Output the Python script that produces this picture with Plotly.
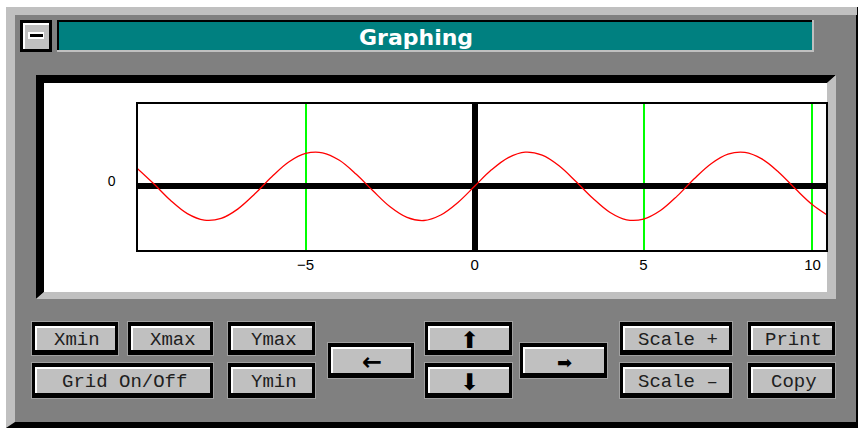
import plotly.graph_objects as go

# ---------------------------------------------------------------------------
# Data
# ---------------------------------------------------------------------------

curve_x = [-10, -9.5, -9, -8.5, -8, -7.5, -7, -6.5, -6, -5.5, -5, -4.5, -4, -3.5,
           -3, -2.5, -2, -1.5, -1, -0.5, 0, 0.5, 1, 1.5, 2, 2.5, 3, 3.5, 4, 4.5,
           5, 5.5, 6, 6.5, 7, 7.5, 8, 8.5, 9, 9.5, 10, 10.5]
curve_y = [0.54, 0.08, -0.41, -0.80, -0.99, -0.94, -0.66, -0.22, 0.28, 0.71, 0.96,
           0.98, 0.76, 0.35, -0.14, -0.60, -0.91, -1.00, -0.84, -0.48, 0.00, 0.48,
           0.84, 1.00, 0.91, 0.60, 0.14, -0.35, -0.76, -0.98, -0.96, -0.71, -0.28,
           0.22, 0.66, 0.94, 0.99, 0.80, 0.41, -0.08, -0.54, -0.88]

x_ticks = [-5, 0, 5, 10]
x_tick_text = ["−5", "0", "5", "10"]
y_ticks = [0]
y_tick_text = ["0"]

title_text = "Graphing"
button_labels = ["Xmin", "Xmax", "Ymax", "Grid On/Off", "Ymin", "←", "⬆", "⬇", "➡",
                 "Scale +", "Scale –", "Print", "Copy"]

# ---------------------------------------------------------------------------
# Window layout (pixels)
# ---------------------------------------------------------------------------

W, H = 858, 428
button_boxes = [
    (32, 322, 118, 355), (128, 322, 213, 355), (228, 322, 315, 355),
    (32, 363, 213, 398), (228, 363, 315, 398),
    (328, 343, 414, 378), (425, 322, 512, 355), (425, 363, 512, 398),
    (520, 343, 607, 378),
    (620, 322, 732, 355), (620, 363, 732, 398),
    (748, 322, 835, 355), (748, 363, 835, 398),
]
arrow_fonts = {"←": 24, "⬆": 23, "⬇": 23, "➡": 18}

LIGHT = "#c0c0c0"
DARK = "#808080"


def px(x):
    return x / W


def py(y):
    return 1 - y / H


def rect(x0, y0, x1, y1, color):
    return dict(type="rect", xref="paper", yref="paper", layer="below",
                x0=px(x0), x1=px(x1), y0=py(y1), y1=py(y0),
                fillcolor=color, line_width=0)


def poly(points, color):
    path = "M " + " L ".join(f"{px(x):.5f},{py(y):.5f}" for x, y in points) + " Z"
    return dict(type="path", xref="paper", yref="paper", layer="below",
                path=path, fillcolor=color, line_width=0)


shapes = [
    # window body and bevel
    rect(6, 7, 858, 428, "#000000"),
    rect(6, 7, 856, 422, DARK),
    poly([(6, 7), (857, 7), (857, 15), (15, 15), (15, 422), (6, 428)], LIGHT),
    # control-menu box
    rect(20, 20, 52, 52, "#000000"),
    rect(23, 23, 49, 49, "#ffffff"),
    rect(25, 25, 49, 49, LIGHT),
    rect(28, 32, 44, 39, "#ffffff"),
    rect(30, 34, 43, 37, "#000000"),
    # title bar
    rect(57, 20, 814, 52, LIGHT),
    rect(57, 20, 812, 50, "#000000"),
    rect(59, 22, 812, 50, "#008080"),
    # graph panel (sunken)
    poly([(36, 75), (836, 75), (827, 83), (44, 83), (44, 292), (36, 299)], "#000000"),
    poly([(836, 75), (836, 299), (36, 299), (44, 292), (827, 292), (827, 83)], LIGHT),
    rect(44, 83, 827, 292, "#ffffff"),
]

annotations = [
    dict(text=f"<b>{title_text}</b>", x=px(415.5), y=py(37), xref="paper", yref="paper",
         showarrow=False, xanchor="center", yanchor="middle",
         font=dict(family="DejaVu Sans", size=22, color="#ffffff")),
]

for label, (x0, y0, x1, y1) in zip(button_labels, button_boxes):
    shapes += [
        rect(x0 - 1, y0 - 1, x1 + 1, y1 + 1, "#a0a0a0"),
        rect(x0, y0, x1, y1, "#000000"),
        rect(x0 + 3, y0 + 4, x1 - 3, y1 - 5, "#ffffff"),
        rect(x0 + 5, y0 + 6, x1 - 3, y1 - 5, LIGHT),
    ]
    if label in arrow_fonts:
        font = dict(family="DejaVu Sans", size=arrow_fonts[label], color="#000000")
        if label == "←":
            label = f"<b>{label}</b>"
        cx = (x0 + x1) / 2 + 1
    else:
        font = dict(family="Liberation Mono", size=19, color="#202020")
        cx = (x0 + x1) / 2 + 2
    annotations.append(dict(text=label, x=px(cx), y=py((y0 + y1) / 2 + 1.5),
                            xref="paper", yref="paper", showarrow=False,
                            xanchor="center", yanchor="middle", font=font))

# ---------------------------------------------------------------------------
# Figure
# ---------------------------------------------------------------------------

fig = go.Figure()
fig.add_trace(go.Scatter(
    x=curve_x, y=curve_y, mode="lines",
    line={"color": "#ff0000", "width": 1.3, "shape": "spline"},
    hoverinfo="skip", showlegend=False,
))

fig.update_layout(
    width=W, height=H,
    margin=dict(l=0, r=0, t=0, b=0),
    paper_bgcolor="#ffffff",
    plot_bgcolor="#ffffff",
    shapes=shapes,
    annotations=annotations,
    xaxis=dict(
        domain=[px(138), px(826)], range=[-9.96, 10.4],
        tickvals=x_ticks, ticktext=x_tick_text, ticks="",
        showgrid=True, gridcolor="#00ff00", gridwidth=2,
        zeroline=True, zerolinecolor="#000000", zerolinewidth=6,
        showline=True, linecolor="#000000", linewidth=1.5, mirror=True,
        tickfont=dict(family="Liberation Sans", size=15, color="#000000"),
        fixedrange=True,
    ),
    yaxis=dict(
        domain=[py(250), py(104)], range=[-1.863, 2.406],
        tickvals=y_ticks, ticktext=y_tick_text, ticks="",
        showgrid=False,
        zeroline=True, zerolinecolor="#000000", zerolinewidth=6,
        showline=True, linecolor="#000000", linewidth=1.5, mirror=True,
        tickfont=dict(family="Liberation Sans", size=14, color="#000000"),
        ticklabelstandoff=18, ticklabelshift=-5,
        fixedrange=True,
    ),
)

fig.write_html("out.html", config={"displayModeBar": False},
               post_script="document.body.style.margin = '0px';")
